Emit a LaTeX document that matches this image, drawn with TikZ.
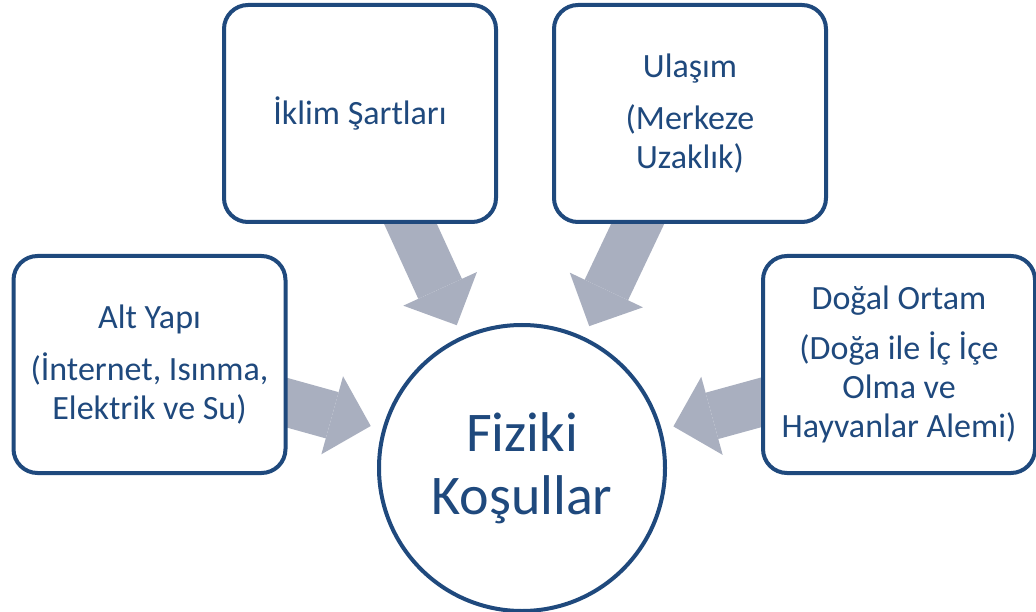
\documentclass[tikz,border=0pt]{standalone}
\usepackage{fontspec}
\setmainfont{Carlito}
\usetikzlibrary{arrows.meta,backgrounds,positioning}
\definecolor{darkblue}{HTML}{1F497D}
\definecolor{arrowgray}{HTML}{A9AFBF}
\tikzset{
    topic/.style={rectangle,rounded corners=24pt,minimum width=272pt,minimum height=217pt,
                  inner sep=0pt,font=\fontsize{34}{39}\selectfont},
    bigarrow/.style={draw=arrowgray,line width=48pt,shorten >=12pt,
                     -{Triangle[length=40pt,width=81pt,line width=0pt]}}
}

\begin{document}
\begin{tikzpicture}[x=1pt,y=-1pt]
    \useasboundingbox (0,0) rectangle (1036,612);
    \begin{scope}[every node/.style={draw=darkblue,line width=4pt,fill=white,text=darkblue,align=center}]
        \node[circle,minimum size=286pt,font=\fontsize{56}{63}\selectfont] (fiz) at (522,468) {Fiziki\\Koşullar};
        \node[topic] (iklim) at (360,113.5) {İklim Şartları};
        \node[topic] (ulasim) at (690,113.5) {Ulaşım\\[13pt](Merkeze\\Uzaklık)};
        \node[topic] (altyapi) at (149.5,364.5) {Alt Yapı\\[13pt](İnternet, Isınma,\\Elektrik ve Su)};
        \node[topic] (dogal) at (899,364.5) {Doğal Ortam\\[11pt](Doğa ile İç İçe\\Olma ve\\Hayvanlar Alemi)};
    \end{scope}

    \begin{scope}[on background layer]
        \path (iklim.center) edge[bigarrow] (fiz);
        \path (ulasim.center) edge[bigarrow] (fiz);
        \path (altyapi.center) edge[bigarrow] (fiz);
        \path (dogal.center) edge[bigarrow] (fiz);
    \end{scope}
\end{tikzpicture}
\end{document}
